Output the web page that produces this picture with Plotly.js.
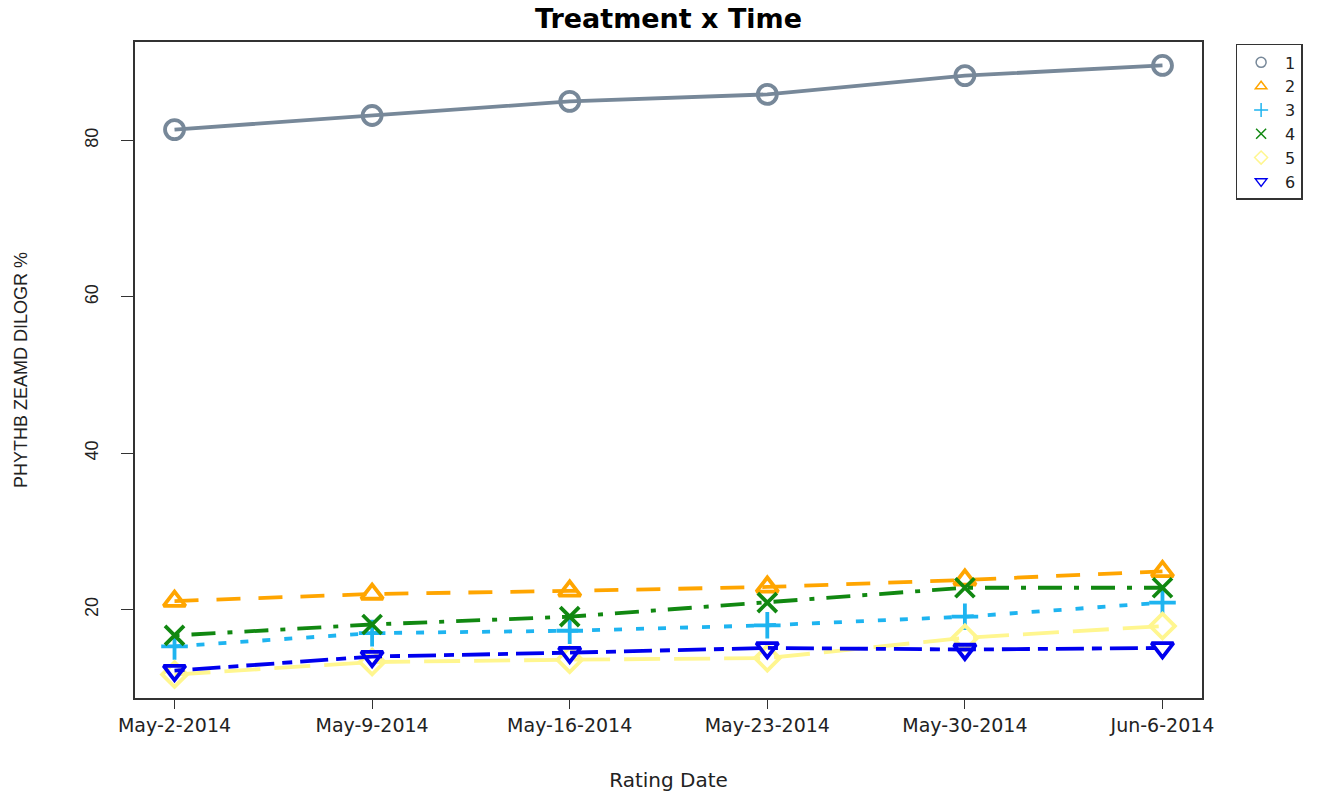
<!DOCTYPE html>
<html><head><meta charset="utf-8">
<script src="https://cdn.plot.ly/plotly-3.0.1.min.js"></script>
<style>body{margin:0;background:#fff}#chart{width:1318px;height:794px}</style>
</head><body><div id="chart"></div>
<script>
const dates = ["May-2-2014","May-9-2014","May-16-2014","May-23-2014","May-30-2014","Jun-6-2014"];
const names = ["1","2","3","4","5","6"];
const t1 = [81.4, 83.2, 85.0, 85.9, 88.3, 89.6];
const t2 = [21.1, 22.0, 22.4, 22.9, 23.8, 24.9];
const t3 = [15.3, 17.0, 17.3, 18.0, 19.1, 20.9];
const t4 = [16.7, 18.1, 19.1, 20.9, 22.8, 22.8];
const t5 = [11.7, 13.3, 13.6, 13.8, 16.4, 17.9];
const t6 = [12.2, 14.0, 14.5, 15.1, 14.9, 15.1];
const series = [t1,t2,t3,t4,t5,t6];
const colors = ["#778899","#FFA500","#1EB4F0","#118811","#FFF68F","#0000EE"];
const dashes = ["solid","24px,18px","8px,14px","5px,12px,24px,12px","36px,14px","10px,8px,28px,8px"];
const symbols = ["circle-open","triangle-up-open","cross-thin-open","x-thin-open","diamond-open","triangle-down-open"];
const xi = dates.map((d,i)=>i);
const traces = [];
series.forEach((s,k)=>{
  traces.push({x:xi,y:s,mode:"lines+markers",showlegend:false,
    line:{color:colors[k],width:3.8,dash:dashes[k]},
    marker:{symbol:symbols[k],size:19,color:colors[k],line:{color:colors[k],width:3.8}}});
});
series.forEach((s,k)=>{
  traces.push({x:[null],y:[null],mode:"markers",name:names[k],showlegend:true,
    marker:{symbol:symbols[k],size:10,color:colors[k],line:{color:colors[k],width:1.5}}});
});
const wide = "DejaVu Sans, Verdana, sans-serif";
const narrow = "Liberation Sans, Arial, sans-serif";
const layout = {
  width:1318,height:794,
  margin:{l:135,r:116,t:42,b:96},
  paper_bgcolor:"#fff",plot_bgcolor:"#fff",
  title:{text:"<b>Treatment x Time</b>",x:(135+1202)/2/1318,xanchor:"center",y:0.977,yanchor:"middle",
    font:{family:wide,size:27,color:"#000"}},
  xaxis:{range:[-0.2,5.2],tickmode:"array",tickvals:xi,ticktext:dates,
    showgrid:false,zeroline:false,showline:true,mirror:true,linecolor:"#333",linewidth:1.5,
    ticks:"outside",ticklen:9,tickcolor:"#333",
    tickfont:{family:wide,size:19,color:"#222"},
    title:{text:"Rating Date",font:{family:wide,size:20,color:"#222"},standoff:38}},
  yaxis:{range:[8.7,92.6],tickvals:[20,40,60,80],tickangle:-90,
    showgrid:false,zeroline:false,showline:true,mirror:true,linecolor:"#333",linewidth:1.5,
    ticks:"outside",ticklen:12,tickcolor:"#333",ticklabelstandoff:16,
    tickfont:{family:narrow,size:18,color:"#222"},
    title:{text:"PHYTHB ZEAMD DILOGR %",font:{family:narrow,size:18,color:"#222"},standoff:50}},
  legend:{x:1.0315,xanchor:"left",y:0.997,yanchor:"top",bordercolor:"#333",borderwidth:1.5,
    font:{family:wide,size:16,color:"#222"},
    tracegroupgap:0,itemwidth:38,bgcolor:"#fff"}
};
Plotly.newPlot("chart",traces,layout,{displayModeBar:false});
</script></body></html>
